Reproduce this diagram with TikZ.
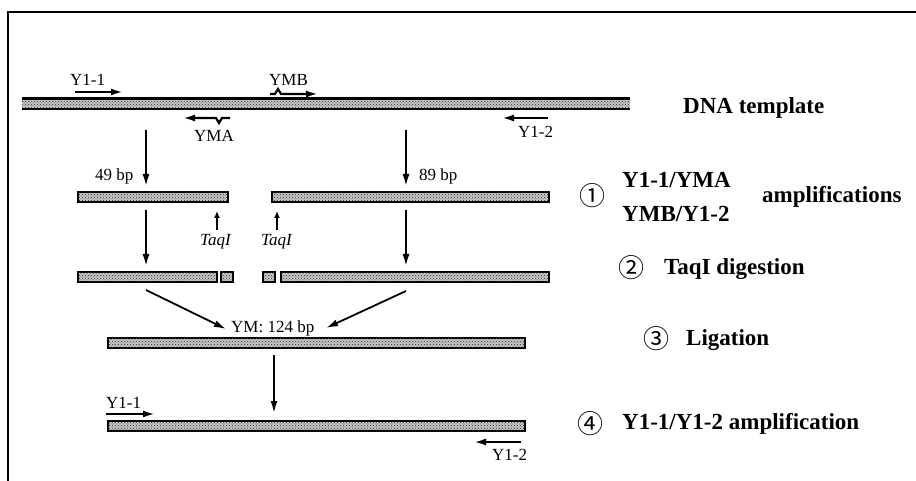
\documentclass[tikz,border=0pt]{standalone}
\usepackage{fontspec}
\setmainfont{Liberation Serif}
\newfontfamily\circfont{Noto Sans CJK JP}
\usetikzlibrary{arrows.meta,patterns}

\tikzset{
  banda/.style={draw, line width=2pt, fill=black!22,
    postaction={pattern=crosshatch dots, pattern color=black!85},
    inner sep=0pt, minimum height=10pt, anchor=west},
  rotulo/.style={font=\fontsize{17}{17}\selectfont, inner sep=0pt, anchor=base west},
  paso/.style={font=\bfseries\fontsize{23}{23}\selectfont, inner sep=0pt, anchor=base west},
  circ/.style={font=\circfont\fontsize{26}{26}\selectfont, inner sep=0pt},
  baja/.style={-{Latex[length=12pt,width=7pt]}, line width=1.8pt},
  cebador/.style={-{Latex[length=12pt,width=7pt]}, line width=2.2pt},
  corte/.style={-{Latex[length=7pt,width=6pt]}, line width=2.6pt},
}

\begin{document}
\begin{tikzpicture}[x=1pt, y=-1pt]
  \useasboundingbox (0,0) rectangle (916,481);
  % marco
  \draw[line width=2.6pt] (916,12) -- (8,12) -- (8,481);
  % molde
  \node[minimum width=608pt, minimum height=10pt, inner sep=0pt, anchor=west, fill=black!22,
    postaction={pattern=crosshatch dots, pattern color=black!85}] (molde) at (22,104) {};
  \draw[line width=2.6pt] (molde.north west) -- (molde.north east)
    (molde.south west) -- (molde.south east);
  % cebadores
  \node[rotulo] (y11) at (70,86) {Y1-1};
  \draw[cebador] (75,92) -- (123,92);
  \node[rotulo] (ymb) at (269,86) {YMB};
  \draw[cebador] (270,94) -- (275,94) -- (278,89) -- (281,94) -- (318,94);
  \node[rotulo] (yma) at (194,142) {YMA};
  \draw[cebador] (230,118) -- (222,118) -- (219,123) -- (216,118) -- (183,118);
  \node[rotulo] (y12) at (518,138) {Y1-2};
  \draw[cebador] (548,118) -- (502,118);
  % paso 1
  \coordinate (a1) at (146,130); \coordinate (b1) at (146,186);
  \coordinate (a2) at (406,130); \coordinate (b2) at (406,186);
  \draw[baja] (a1) -- (b1);
  \draw[baja] (a2) -- (b2);
  \node[rotulo] (l49) at (95,181) {49 bp};
  \node[rotulo] (l89) at (419,181) {89 bp};
  \node[banda, minimum width=150pt] (f49) at (77,197) {};
  \node[banda, minimum width=277pt] (f89) at (271,197) {};
  % sitios TaqI
  \coordinate (s1) at (217,230); \coordinate (s2) at (277,230);
  \draw[corte] (s1) -- (217,211);
  \draw[corte] (s2) -- (277,211);
  \node[rotulo, font=\itshape\fontsize{17}{17}\selectfont] (tq1) at (200,246) {TaqI};
  \node[rotulo, font=\itshape\fontsize{17}{17}\selectfont] (tq2) at (261,246) {TaqI};
  % paso 2
  \coordinate (c1a) at (146,210); \coordinate (c1b) at (146,266);
  \coordinate (c2a) at (406,210); \coordinate (c2b) at (406,266);
  \draw[baja] (c1a) -- (c1b);
  \draw[baja] (c2a) -- (c2b);
  \node[banda, minimum width=139pt] (d1) at (77,277) {};
  \node[banda, minimum width=12pt] (d2) at (220,277) {};
  \node[banda, minimum width=12pt] (d3) at (262,277) {};
  \node[banda, minimum width=268pt] (d4) at (280,277) {};
  % paso 3
  \coordinate (e1a) at (146,290); \coordinate (e1b) at (226,329);
  \coordinate (e2a) at (406,291); \coordinate (e2b) at (326,328);
  \draw[baja] (e1a) -- (e1b);
  \draw[baja] (e2a) -- (e2b);
  \node[rotulo] (lym) at (231,332) {YM: 124 bp};
  \node[banda, minimum width=417pt] (ym) at (107,343) {};
  % paso 4
  \coordinate (g1) at (274,355); \coordinate (g2) at (274,413);
  \draw[baja] (g1) -- (g2);
  \node[banda, minimum width=417pt] (fin) at (107,426) {};
  \node[rotulo] (y11b) at (106,408) {Y1-1};
  \draw[cebador] (106,414) -- (155,414);
  \node[rotulo] (y12b) at (492,460) {Y1-2};
  \draw[cebador] (521,442) -- (474,442);
  % pasos
  \node[paso] (t0) at (683,114) {DNA template};
  \node[circ] (n1) at (592,196) {①};
  \node[paso] (t1a) at (622,188) {Y1-1/YMA};
  \node[paso] (t1b) at (622,222) {YMB/Y1-2};
  \node[paso] (t1c) at (762,203) {amplifications};
  \node[circ] (n2) at (631,268) {②};
  \node[paso] (t2) at (664,275) {TaqI digestion};
  \node[circ] (n3) at (656,339) {③};
  \node[paso] (t3) at (686,345) {Ligation};
  \node[circ] (n4) at (590,424) {④};
  \node[paso] (t4) at (622,429) {Y1-1/Y1-2 amplification};
\end{tikzpicture}
\end{document}
